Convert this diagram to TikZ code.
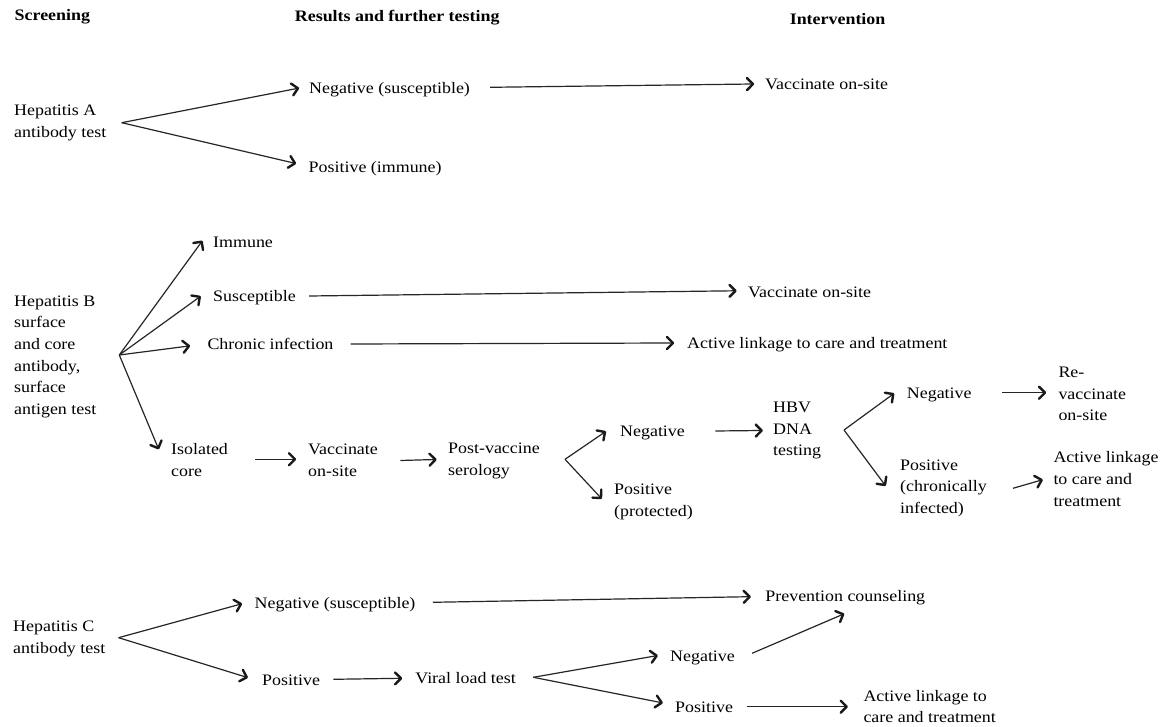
\documentclass[tikz,border=0pt]{standalone}
\usepackage{fontspec}
\setmainfont{Liberation Serif}[FakeStretch=1.12]
\usetikzlibrary{arrows.meta,calc,decorations.markings}
\newcommand\mainfnt{\fontsize{16}{21.6}\selectfont}
\begin{document}
\begin{tikzpicture}[x=1pt,y=-1pt,
  txt/.style={anchor=west, inner sep=0pt, font=\mainfnt, text height=11pt, text depth=1pt},
  mtxt/.style={anchor=west, inner sep=0pt, font=\mainfnt, align=left},
  arr/.style={draw=black!85, line width=1.2pt, postaction={decorate},
    decoration={markings, mark=at position 1 with {\draw[black!90, line width=2.4pt, line cap=round, line join=round] (-6pt,6pt) -- (0pt,0pt) -- (-6pt,-6pt);}}}]
\useasboundingbox[fill=white] (0,0) rectangle (1163,727);

% headers
\node[txt] (hdS) at (14.5,15.5) {\textbf{Screening}};
\node[txt] (hdR) at (294.7,16.7) {\textbf{Results and further testing}};
\node[txt] (hdI) at (789.6,20) {\textbf{Intervention}};

% Hepatitis A
\node[mtxt] (hepA) at (14,123) {Hepatitis A\\antibody test};
\coordinate (forkA) at (121.7,122.7);
\node[txt] (negA) at (309,89) {Negative (susceptible)};
\node[txt] (posA) at (308.5,168) {Positive (immune)};
\node[txt] (vacA) at (765,85) {Vaccinate on-site};
\draw[arr] (forkA) -- ($(negA.west)+(-11,-0.7)$);
\draw[arr] (forkA) -- ($(posA.west)+(-13.5,-4.7)$);
\draw[arr] ($(negA.east)+(20,-1.7)$) -- ($(vacA.west)+(-12,-1)$);

% Hepatitis B
\node[mtxt] (hepB) at (14,356.7) {Hepatitis B\\surface\\and core\\antibody,\\surface\\antigen test};
\coordinate (forkB) at (119.3,355);
\node[txt] (immB) at (213,243) {Immune};
\node[txt] (susB) at (213,296.7) {Susceptible};
\node[txt] (chrB) at (207.3,345) {Chronic infection};
\node[mtxt] (isoB) at (171,460) {Isolated\\core};
\node[txt] (vacB) at (748,292.3) {Vaccinate on-site};
\node[txt] (actB) at (687,344) {Active linkage to care and treatment};
\draw[arr] (forkB) -- ($(immB.west)+(-11.3,-1.3)$);
\draw[arr] (forkB) -- ($(susB.west)+(-13,0)$);
\draw[arr] (forkB) -- ($(chrB.west)+(-18.3,1)$);
\draw[arr] (forkB) -- ($(isoB.west)+(-12.7,-11.7)$);
\draw[arr] ($(susB.east)+(13,-0.7)$) -- ($(vacB.west)+(-12.5,-1.5)$);
\draw[arr] ($(chrB.east)+(17,-1)$) -- ($(actB.west)+(-14,-1)$);

\node[mtxt] (vacB2) at (308,460.5) {Vaccinate\\on-site};
\node[mtxt] (post) at (448,461) {Post-vaccine\\serology};
\draw[arr] ($(isoB.east)+(27.3,-0.7)$) -- ($(vacB2.west)+(-13,-1.2)$);
\draw[arr] ($(vacB2.east)+(22.4,0)$) -- ($(post.west)+(-12.5,-1.5)$);

\coordinate (forkPV) at (565,459.3);
\node[txt] (negPV) at (620,432) {Negative};
\node[mtxt] (posPV) at (614,502) {Positive\\(protected)};
\draw[arr] (forkPV) -- ($(negPV.west)+(-15,0)$);
\draw[arr] (forkPV) -- ($(posPV.west)+(-13,-4)$);

\node[mtxt] (hbv) at (773,430.5) {HBV\\DNA\\testing};
\draw[arr] ($(negPV.east)+(30.3,-1)$) -- ($(hbv.west)+(-11.3,0)$);

\coordinate (forkH) at (844,430);
\node[txt] (negH) at (906.7,394) {Negative};
\node[mtxt] (posH) at (900,488.3) {Positive\\(chronically\\infected)};
\draw[arr] (forkH) -- ($(negH.west)+(-13.4,0)$);
\draw[arr] (forkH) -- ($(posH.west)+(-15,-3.3)$);

\node[mtxt] (rev) at (1058.3,394) {Re-\\vaccinate\\on-site};
\node[mtxt] (actH) at (1053.3,479) {Active linkage\\to care and\\treatment};
\draw[arr] ($(negH.east)+(30.3,-1.3)$) -- ($(rev.west)+(-13.3,-1.3)$);
\draw[arr] ($(posH.east)+(26,0)$) -- ($(actH.west)+(-11.6,1)$);

% Hepatitis C
\node[mtxt] (hepC) at (13,638.7) {Hepatitis C\\antibody test};
\coordinate (forkC) at (118.6,637.7);
\node[txt] (negC) at (254.5,603.3) {Negative (susceptible)};
\node[txt] (posC) at (262,680) {Positive};
\node[txt] (prev) at (765.2,596.7) {Prevention counseling};
\node[txt] (viral) at (415.2,678.3) {Viral load test};
\draw[arr] (forkC) -- ($(negC.west)+(-13.5,0.7)$);
\draw[arr] (forkC) -- ($(posC.west)+(-15.2,-2.7)$);
\draw[arr] ($(negC.east)+(17.2,-1)$) -- ($(prev.west)+(-15.5,0)$);
\draw[arr] ($(posC.east)+(13.2,-0.7)$) -- ($(viral.west)+(-14.2,0)$);

\coordinate (forkV) at (533.3,677.3);
\node[txt] (negV) at (670,656.7) {Negative};
\node[txt] (posV) at (675,707) {Positive};
\node[mtxt] (actC) at (863.3,706.7) {Active linkage to\\care and treatment};
\draw[arr] (forkV) -- ($(negV.west)+(-13.3,-1)$);
\draw[arr] (forkV) -- ($(posV.west)+(-13.3,-4.3)$);
\draw[arr] ($(negV.east)+(17,-3.4)$) -- ($(prev.south)+(-2,11.3)$);
\draw[arr] ($(posV.east)+(14,-0.3)$) -- ($(actC.west)+(-16.6,0)$);
\end{tikzpicture}
\end{document}
